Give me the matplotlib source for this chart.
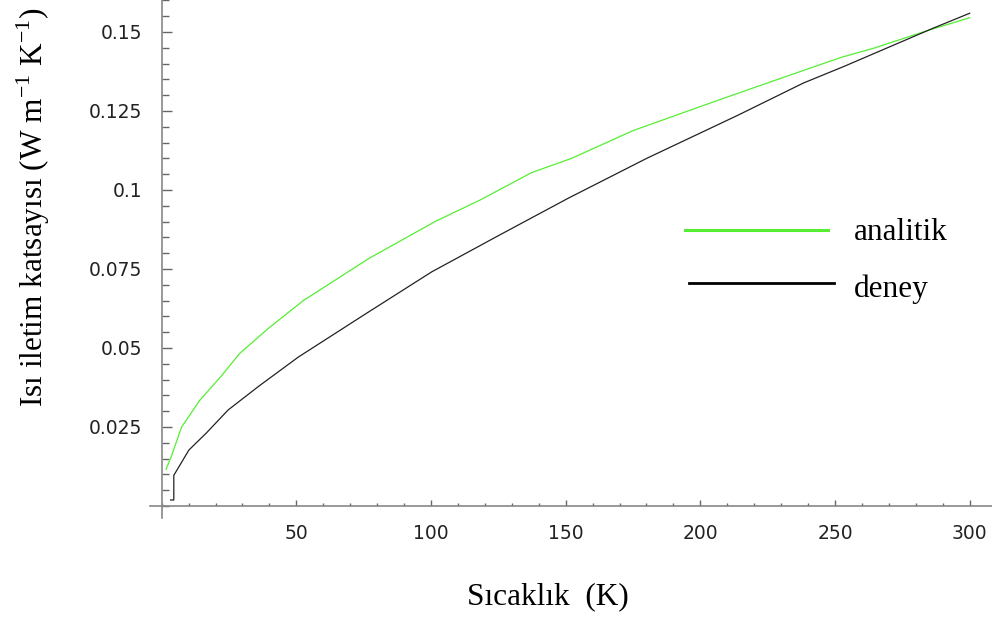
import numpy as np
import matplotlib
matplotlib.use("Agg")
import matplotlib.pyplot as plt
from matplotlib.ticker import MultipleLocator, FixedLocator

# values
analitik_T = [1.6, 3.5, 7.4, 14.2, 22, 29, 39.6, 52.6, 76.7, 101.5, 118.2, 137.4,
              152.2, 175.1, 207.3, 238.9, 252.5, 264.2, 282.8, 300]
analitik_k = [0.0116, 0.0155, 0.025, 0.0335, 0.041, 0.0483, 0.0562, 0.065, 0.0782, 0.090,
              0.0968, 0.1055, 0.110, 0.1188, 0.1286, 0.138, 0.142, 0.1448, 0.150, 0.1545]

deney_T = [3.3, 4.5, 4.5, 10.1, 16.7, 24.7, 36.2, 50.7, 76.1, 100.3, 125.6, 151,
           180.1, 214.1, 238.2, 253.1, 286.5, 300]
deney_k = [0.0019, 0.0019, 0.0097, 0.0177, 0.0232, 0.0304, 0.038, 0.0471, 0.061, 0.0741,
           0.0858, 0.0974, 0.110, 0.1237, 0.1338, 0.139, 0.1512, 0.1559]

xticks = [50, 100, 150, 200, 250, 300]
yticks = [0.025, 0.05, 0.075, 0.1, 0.125, 0.15]
ytick_labels = ["0.025", "0.05", "0.075", "0.1", "0.125", "0.15"]

W, H = 992, 623
fig = plt.figure(figsize=(W / 100, H / 100), dpi=100)
ax = fig.add_axes([150 / W, (H - 518) / H, (W - 150) / W, 518 / H])

green = "#55ee33"
ax.plot(analitik_T, analitik_k, color=green, lw=0.9)
ax.plot(deney_T, deney_k, color="#222222", lw=0.9)

ax.set_xlim(-4.34, 308.3)
ax.set_ylim(-0.0038, 0.1601)

for s in ["top", "right"]:
    ax.spines[s].set_visible(False)
ax.spines["left"].set_position(("data", 0))
ax.spines["bottom"].set_position(("data", 0))
for s in ["left", "bottom"]:
    ax.spines[s].set_color("#888888")
    ax.spines[s].set_linewidth(1.2)

ax.xaxis.set_major_locator(FixedLocator(xticks))
ax.xaxis.set_minor_locator(MultipleLocator(10))
ax.yaxis.set_major_locator(FixedLocator(yticks))
ax.yaxis.set_minor_locator(MultipleLocator(0.005))
ax.set_yticklabels(ytick_labels)

ax.xaxis.set_tick_params(which="major", direction="in", length=4.5, width=1, color="#666666", pad=13)
ax.xaxis.set_tick_params(which="minor", direction="in", length=2, width=1, color="#666666")
ax.yaxis.set_tick_params(which="major", direction="in", length=7.5, width=1, color="#666666", pad=14)
ax.yaxis.set_tick_params(which="minor", direction="in", length=5, width=1, color="#666666")

for lab in ax.get_xticklabels() + ax.get_yticklabels():
    lab.set_fontfamily("DejaVu Sans")
    lab.set_fontsize(13.5)
    lab.set_color("#222222")

# legend drawn by hand, like the original
fig.add_artist(plt.Line2D([685 / W, 828 / W], [1 - 230 / H, 1 - 230 / H], color=green, lw=2.2))
fig.add_artist(plt.Line2D([689 / W, 834 / W], [1 - 283 / H, 1 - 283 / H], color="black", lw=2))
fig.text(854 / W, 1 - 233 / H, "analitik", family="Liberation Serif", fontsize=22.5, va="center")
fig.text(854 / W, 1 - 289 / H, "deney", family="Liberation Serif", fontsize=22.5, va="center")

fig.text(548 / W, 1 - 597 / H, "Sıcaklık  (K)", family="Liberation Serif", fontsize=22.5,
         ha="center", va="center")
fig.text(33 / W, 1 - 8 / H, "Isı iletim katsayısı (W m$^{\\mathregular{-1}}$ K$^{\\mathregular{-1}}$)",
         family="Liberation Serif", fontsize=22.5, rotation=90, ha="center", va="top")

fig.savefig("out.png", dpi=100)
